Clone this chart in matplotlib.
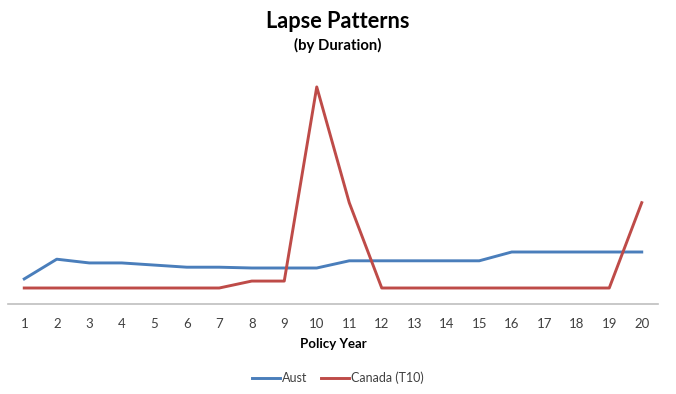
import matplotlib
matplotlib.use("Agg")
import matplotlib.pyplot as plt

years = list(range(1, 21))
aust = [4.7, 8.4, 7.7, 7.7, 7.3, 6.9, 6.9, 6.75, 6.75, 6.75,
        8.1, 8.1, 8.1, 8.1, 8.1, 9.75, 9.75, 9.75, 9.75, 9.75]
canada = [3, 3, 3, 3, 3, 3, 3, 4.3, 4.3, 40.7,
          19, 3, 3, 3, 3, 3, 3, 3, 3, 19]

plt.rcParams['font.family'] = ['Lato', 'DejaVu Sans']

fig = plt.figure(figsize=(6.76, 3.94), dpi=100)
ax = fig.add_axes([8/676, 1-304/394, 650/676, (304-64)/394])
ax.plot(years, aust, color='#4A7EBB', lw=2.1, label='Aust')
ax.plot(years, canada, color='#BE4B48', lw=2.1, label='Canada (T10)')
ax.set_xlim(0.5, 20.5)
ax.set_ylim(0, 45)
ax.set_xticks(years)
ax.set_xticklabels([str(y) for y in years], fontsize=9.5, color='#404040')
ax.tick_params(axis='x', length=0, pad=10)
ax.set_yticks([])
for s in ['top', 'right', 'left']:
    ax.spines[s].set_visible(False)
ax.spines['bottom'].set_color('#BFBFBF')
ax.spines['bottom'].set_linewidth(1.2)
ax.set_xlabel('Policy Year', fontsize=9.5, fontweight='bold', color='#000000', labelpad=6)

fig.text(0.5, 1-21/394, 'Lapse Patterns', ha='center', va='center', fontsize=15.7, fontweight='bold')
fig.text(0.5, 1-45/394, '(by Duration)', ha='center', va='center', fontsize=10.7, fontweight='bold')

leg = fig.legend(loc='center', bbox_to_anchor=(0.5, 1-378/394), ncol=2, frameon=False,
                 fontsize=9, handlelength=2.25, columnspacing=1.1, handletextpad=0.15)
for t in leg.get_texts():
    t.set_color('#404040')

fig.savefig('out.png', dpi=100)
